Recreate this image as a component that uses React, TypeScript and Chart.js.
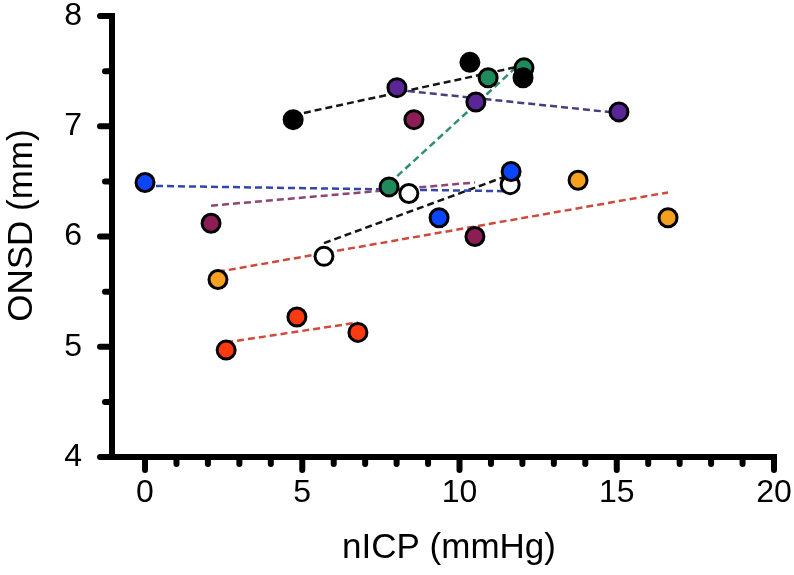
import React, { useEffect, useRef } from "react";
import { Chart, registerables } from "chart.js";

Chart.register(...registerables);

// ---- data ----
const blackX = [4.71, 10.33, 12.02];
const blackY = [7.06, 7.58, 7.44];
const greenX = [7.76, 10.91, 12.05];
const greenY = [6.45, 7.44, 7.53];
const purpleX = [8.01, 10.52, 15.07];
const purpleY = [7.35, 7.22, 7.13];
const maroonX = [2.1, 8.55, 10.49];
const maroonY = [6.12, 7.06, 6.0];
const blueX = [0, 9.35, 11.64];
const blueY = [6.49, 6.17, 6.59];
const openX = [5.69, 8.39, 11.61];
const openY = [5.82, 6.39, 6.47];
const orangeX = [2.32, 13.77, 16.63];
const orangeY = [5.61, 6.51, 6.17];
const redX = [2.58, 4.83, 6.77];
const redY = [4.97, 5.27, 5.13];

// trend line end points
const blackTrendX = [4.71, 12.02];
const blackTrendY = [7.1, 7.55];
const greenTrendX = [7.76, 12.05];
const greenTrendY = [6.48, 7.6];
const purpleTrendX = [8.01, 15.07];
const purpleTrendY = [7.33, 7.12];
const maroonTrendX = [2.1, 10.49];
const maroonTrendY = [6.28, 6.49];
const blueTrendX = [0, 11.64];
const blueTrendY = [6.46, 6.41];
const openTrendX = [5.69, 11.61];
const openTrendY = [5.94, 6.56];
const orangeTrendX = [2.32, 16.63];
const orangeTrendY = [5.68, 6.4];
const redTrendX = [2.58, 6.77];
const redTrendY = [5.04, 5.22];

// axis ticks
const xMajorTicks = [0, 5, 10, 15, 20];
const xMinorTicks = [1, 2, 3, 4, 6, 7, 8, 9, 11, 12, 13, 14, 16, 17, 18, 19];
const yMajorTicks = [4, 5, 6, 7, 8];
const yMinorTicks = [4.5, 5.5, 6.5, 7.5];
const xTitle = "nICP (mmHg)";
const yTitle = "ONSD (mm)";

// ---- styles ----
const groups = [
  { x: blackX, y: blackY, tx: blackTrendX, ty: blackTrendY, fill: "#000000", line: "#151515" },
  { x: greenX, y: greenY, tx: greenTrendX, ty: greenTrendY, fill: "#1f8a5c", line: "#2f8f6f" },
  { x: purpleX, y: purpleY, tx: purpleTrendX, ty: purpleTrendY, fill: "#5a2595", line: "#4b3b80" },
  { x: maroonX, y: maroonY, tx: maroonTrendX, ty: maroonTrendY, fill: "#8c1e55", line: "#8e4476" },
  { x: blueX, y: blueY, tx: blueTrendX, ty: blueTrendY, fill: "#0a45ff", line: "#3344aa" },
  { x: openX, y: openY, tx: openTrendX, ty: openTrendY, fill: "#ffffff", line: "#151515" },
  { x: orangeX, y: orangeY, tx: orangeTrendX, ty: orangeTrendY, fill: "#f5a01e", line: "#cc4b3b" },
  { x: redX, y: redY, tx: redTrendX, ty: redTrendY, fill: "#ff3a10", line: "#d24a3a" },
];

const FONT = '"Liberation Sans", Arial, sans-serif';

const axesPlugin = {
  id: "customAxes",
  beforeDatasetsDraw(chart: any) {
    const { ctx, chartArea, scales } = chart;
    const xs = scales.x;
    const ys = scales.y;
    const L = chartArea.left;
    const B = chartArea.bottom;
    ctx.save();
    ctx.strokeStyle = "#000";
    ctx.lineWidth = 6;
    // axis lines
    ctx.lineCap = "butt";
    ctx.beginPath();
    ctx.moveTo(L, ys.getPixelForValue(8) - 3);
    ctx.lineTo(L, B + 3);
    ctx.moveTo(L - 3, B);
    ctx.lineTo(xs.getPixelForValue(20) + 3, B);
    ctx.stroke();
    // ticks
    ctx.lineCap = "round";
    ctx.beginPath();
    xMajorTicks.forEach((v) => {
      const p = xs.getPixelForValue(v);
      ctx.moveTo(p, B);
      ctx.lineTo(p, B + 13);
    });
    xMinorTicks.forEach((v) => {
      const p = xs.getPixelForValue(v);
      ctx.moveTo(p, B);
      ctx.lineTo(p, B + 7);
    });
    yMajorTicks.forEach((v) => {
      const p = ys.getPixelForValue(v);
      ctx.moveTo(L, p);
      ctx.lineTo(L - 12, p);
    });
    yMinorTicks.forEach((v) => {
      const p = ys.getPixelForValue(v);
      ctx.moveTo(L, p);
      ctx.lineTo(L - 7, p);
    });
    ctx.stroke();
    ctx.restore();
  },
  afterDraw(chart: any) {
    const { ctx, chartArea } = chart;
    ctx.save();
    ctx.fillStyle = "#000";
    ctx.font = `35px ${FONT}`;
    ctx.textAlign = "center";
    ctx.textBaseline = "alphabetic";
    ctx.fillText(xTitle, (chartArea.left + chartArea.right) / 2 + 6, 558);
    ctx.translate(32, (chartArea.top + chartArea.bottom) / 2 - 11);
    ctx.rotate(-Math.PI / 2);
    ctx.fillText(yTitle, 0, 0);
    ctx.restore();
  },
};

export default function App() {
  const ref = useRef<HTMLCanvasElement | null>(null);

  useEffect(() => {
    document.body.style.margin = "0";
    document.body.style.overflow = "hidden";
    if (!ref.current) return;

    const datasets: any[] = [];
    groups.forEach((g) => {
      datasets.push({
        type: "scatter",
        data: g.x.map((v, i) => ({ x: v, y: g.y[i] })),
        pointRadius: 9,
        pointHoverRadius: 9,
        pointBorderWidth: 3,
        pointBackgroundColor: g.fill,
        pointBorderColor: "#000",
        showLine: false,
        order: 1,
      });
    });
    groups.forEach((g) => {
      datasets.push({
        type: "scatter",
        data: g.tx.map((v, i) => ({ x: v, y: g.ty[i] })),
        showLine: true,
        borderColor: g.line,
        borderWidth: 2.5,
        borderDash: [7, 4],
        pointRadius: 0,
        pointHoverRadius: 0,
        fill: false,
        order: 2,
      });
    });

    const hiddenTicks = {
      display: true,
      drawOnChartArea: false,
      drawTicks: true,
      color: "rgba(0,0,0,0)",
      tickColor: "rgba(0,0,0,0)",
    };

    const chart = new Chart(ref.current, {
      type: "scatter",
      data: { datasets },
      options: {
        animation: false,
        responsive: false,
        events: [],
        layout: { padding: { left: 0, right: 20, top: 0, bottom: 0 } },
        plugins: {
          legend: { display: false },
          tooltip: { enabled: false },
          title: { display: false },
        },
        scales: {
          x: {
            type: "linear",
            min: -1.05,
            max: 20,
            grid: { ...hiddenTicks, tickLength: 17 },
            border: { display: false },
            afterBuildTicks: (s: any) => {
              s.ticks = xMajorTicks.map((v) => ({ value: v }));
            },
            afterFit: (s: any) => {
              s.height = 118;
            },
            ticks: {
              padding: 0,
              color: "#000",
              maxRotation: 0,
              autoSkip: false,
              font: { family: FONT, size: 32, lineHeight: 1.2 },
            },
          },
          y: {
            type: "linear",
            min: 4,
            max: 8,
            grid: { ...hiddenTicks, tickLength: 30 },
            border: { display: false },
            afterBuildTicks: (s: any) => {
              s.ticks = yMajorTicks.map((v) => ({ value: v }));
            },
            afterFit: (s: any) => {
              s.width = 112;
            },
            ticks: {
              padding: 0,
              color: "#000",
              autoSkip: false,
              font: { family: FONT, size: 32, lineHeight: 1 },
            },
          },
        },
      },
      plugins: [axesPlugin],
    } as any);

    return () => chart.destroy();
  }, []);

  return (
    <div style={{ width: 794, height: 575, position: "relative" }}>
      <canvas ref={ref} width={794} height={575} style={{ display: "block", width: 794, height: 575 }} />
    </div>
  );
}
